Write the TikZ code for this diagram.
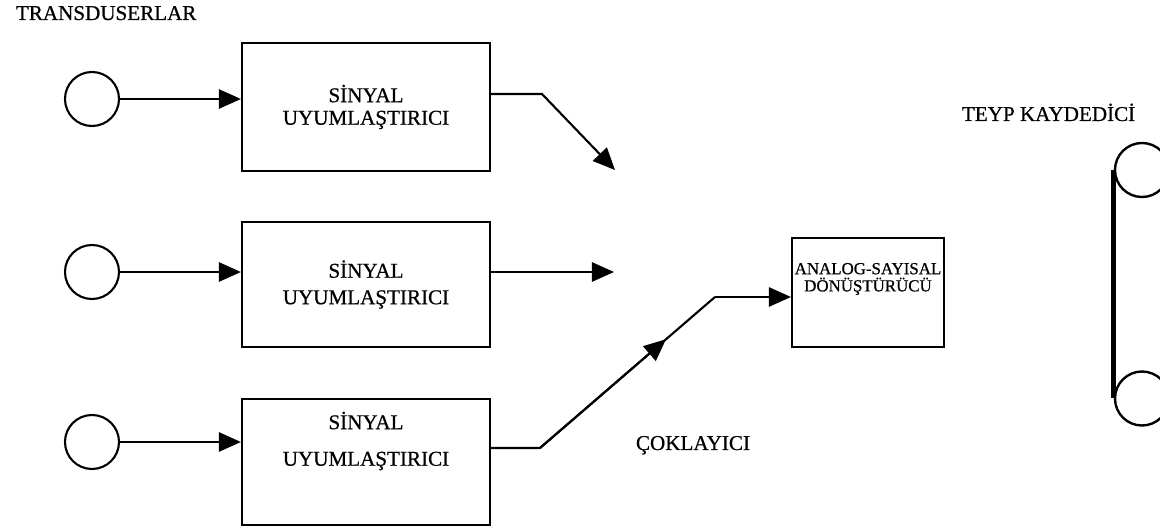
\documentclass[tikz,border=0pt]{standalone}
\usepackage{fontspec}
\setmainfont{Liberation Serif}
\newfontfamily\baski{Liberation Serif}[FakeBold=0.7]
\usetikzlibrary{arrows.meta,calc}
\tikzset{arrowout/.style={-{Triangle[length=5.5mm,width=4.8mm]},line width=1.5pt},line/.style={line width=1.5pt},trans/.style={circle,draw,line width=1.5pt,minimum size=13.5mm,inner sep=0pt},box/.style={rectangle,draw,line width=1.5pt,minimum width=6.2cm,align=center},reel/.style={circle,draw,line width=1.7pt,minimum size=13.5mm,inner sep=0pt}}

\begin{document}
\begin{tikzpicture}[x=0.025cm,y=-0.025cm,font=\baski\fontsize{15}{16}\selectfont]

\useasboundingbox (0,0) rectangle (1160,530);
\clip (0,0) rectangle (1160,530);

\node (baslik) at (11,20)[anchor=base west]{TRANSDUSERLAR};
\node (teypyazi) at (957,121)[anchor=base west]{TEYP KAYDED\.{I}C\.{I}};
\node (coklayici) at (631,450)[anchor=base west]{ÇOKLAYICI};

% transduserlar
\node (t1) at (92,99)[trans]{};
\node (t2) at (92,272)[trans]{};
\node (t3) at (92,442)[trans]{};

% sinyal uyumlastiricilar
\node (s1) at (366,107)[box,minimum height=3.2cm]{S\.{I}NYAL\\UYUMLAŞTIRICI};
\node (s2) at (366,284.5)[box,minimum height=3.125cm]{S\.{I}NYAL\\[1mm]UYUMLAŞTIRICI};
\node (s3) at (366,462)[box,minimum height=3.15cm]{};
\node (s3yazi) at (366,441)[align=center]{S\.{I}NYAL\\[3.5mm]UYUMLAŞTIRICI};

\node (adc) at (868,292.5)[box,minimum width=3.8cm,minimum height=2.72cm]{};
\node (adcyazi) at (868,279)[align=center,font=\baski\fontsize{12}{10.5}\selectfont]{ANALOG-SAYISAL\\[0.6mm]DÖNÜŞTÜRÜCÜ};

\draw[arrowout] (t1) -- (s1.west|-t1);
\draw[arrowout] (t2) -- (s2.west|-t2);
\draw[arrowout] (t3) -- (s3.west|-t3);

% coklayici girisleri
\coordinate (k1) at (542,94);
\coordinate (m1) at (615,170);
\coordinate (m2) at (614,272);
\coordinate (k3) at (540,448);
\coordinate (k4) at (715,297);
\draw[arrowout] (s1.east|-k1) -- (k1) -- (m1);
\draw[arrowout] (s2.east|-m2) -- (m2);
\draw[line] (s3.east|-k3) -- (k3) -- (k4);
\draw[arrowout] (k3) -- ($(k3)!0.72!(k4)$);
\draw[arrowout] (k4) -- (adc.west|-k4);

% teyp
\node (r1) at (1142,170)[reel]{};
\node (r2) at (1142,398.5)[reel]{};
\draw[line width=3.6pt] (r1.west) -- (r2.west);

\end{tikzpicture}
\end{document}
